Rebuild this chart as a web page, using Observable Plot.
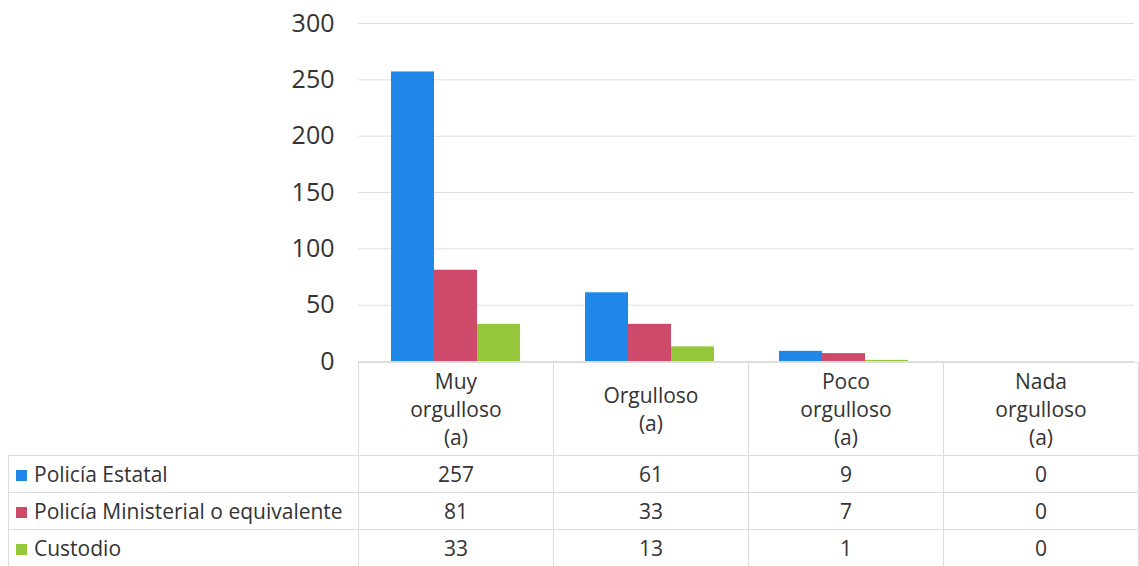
<!DOCTYPE html>
<html>
<head>
<meta charset="utf-8">
<script src="https://cdn.jsdelivr.net/npm/d3@7"></script>
<script src="https://cdn.jsdelivr.net/npm/@observablehq/plot@0.6"></script>
<style>
  html, body { margin: 0; padding: 0; background: #fff; }
  body { width: 1139px; height: 566px; overflow: hidden; font-family: "Open Sans", Lato, sans-serif; color: #333; }
  #chart { position: relative; z-index: 1; height: 362px; }
  #chart svg { display: block; overflow: visible; background: transparent; }
  table { border-collapse: collapse; table-layout: fixed; width: 1131px; margin-left: 8px; font-size: 21px; color: #333; }
  td { border: 1px solid #dcdcdc; text-align: center; padding: 0; }
  td.lab { text-align: left; white-space: nowrap; padding-left: 7px; }
  tr.head td { height: 92px; line-height: 28px; }
  tr.head td.blank { border: none; border-right: 1px solid #dcdcdc; }
  tr.row td { height: 36px; }
  .sw { display: inline-block; width: 11px; height: 11px; margin-right: 7px; vertical-align: 1px; }
</style>
</head>
<body>
<div id="chart"></div>
<div id="table"></div>
<script>
const categories = ["Muy orgulloso (a)", "Orgulloso (a)", "Poco orgulloso (a)", "Nada orgulloso (a)"];
const categoryLines = [["Muy", "orgulloso", "(a)"], ["Orgulloso", "(a)"], ["Poco", "orgulloso", "(a)"], ["Nada", "orgulloso", "(a)"]];
const series = ["Policía Estatal", "Policía Ministerial o equivalente", "Custodio"];
const colors = ["#1f87e8", "#cd4a6a", "#94c83a"];
const estatal = [257, 61, 9, 0];
const ministerial = [81, 33, 7, 0];
const custodio = [33, 13, 1, 0];
const yTicks = [0, 50, 100, 150, 200, 250, 300];

const values = [estatal, ministerial, custodio];
const data = [];
categories.forEach((c, i) => series.forEach((s, j) => data.push({cat: c, serie: s, value: values[j][i]})));

const chart = Plot.plot({
  width: 1139,
  height: 362,
  marginTop: 23,
  marginBottom: 1,
  marginLeft: 357,
  marginRight: 4,
  style: {fontFamily: "'Open Sans', Lato, sans-serif", fontSize: "25px", color: "#333", overflow: "visible", background: "transparent"},
  fx: {domain: categories, padding: 0, axis: null},
  x: {domain: series, paddingInner: 0, paddingOuter: 0.727, axis: null},
  y: {domain: [0, 300], ticks: yTicks, tickSize: 0, tickPadding: 24, label: null},
  color: {domain: series, range: colors},
  marks: [
    Plot.gridY(yTicks, {stroke: "#dedede", strokeOpacity: 1}),
    Plot.barY(data, {fx: "cat", x: "serie", y: "value", fill: "serie"})
  ]
});
document.getElementById("chart").appendChild(chart);

// data table below the chart
let html = '<table><colgroup><col style="width:349px">' + categories.map(() => '<col style="width:194.5px">').join("") + '</colgroup>';
html += '<tr class="head"><td class="blank"></td>' + categoryLines.map(l => '<td>' + l.join("<br>") + '</td>').join("") + '</tr>';
series.forEach((s, j) => {
  html += '<tr class="row"><td class="lab"><span class="sw" style="background:' + colors[j] + '"></span>' + s + '</td>' +
    values[j].map(v => '<td>' + v + '</td>').join("") + '</tr>';
});
html += '</table>';
document.getElementById("table").innerHTML = html;
</script>
</body>
</html>
